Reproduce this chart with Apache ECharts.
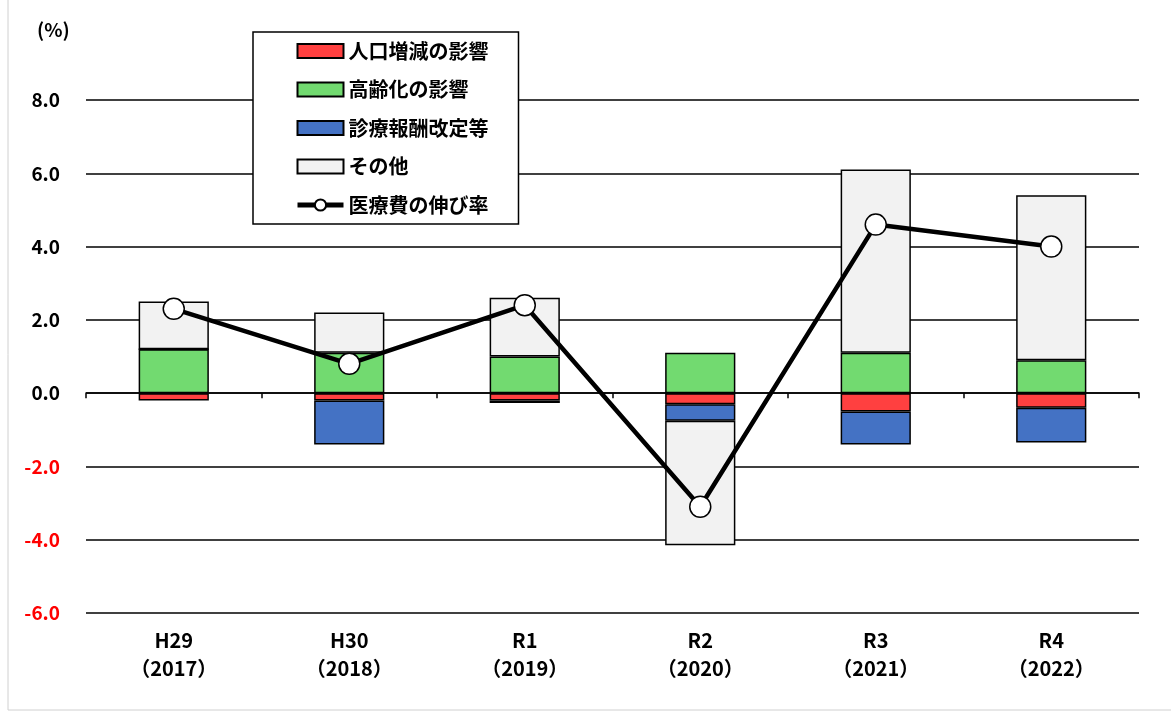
<!DOCTYPE html>
<html><head><meta charset="utf-8">
<script src="https://cdn.jsdelivr.net/npm/echarts@6/dist/echarts.min.js"></script>
<style>html,body{margin:0;padding:0;background:#fff}#c{width:1171px;height:715px}</style>
</head><body><div id="c"></div>
<script>
var categories = ['H29\n（2017）','H30\n（2018）','R1\n（2019）','R2\n（2020）','R3\n（2021）','R4\n（2022）'];
var popValues = [-0.2, -0.2, -0.2, -0.3, -0.5, -0.4];
var agingValues = [1.2, 1.1, 1.0, 1.1, 1.1, 0.9];
var feeValues = [0, -1.2, -0.07, -0.45, -0.9, -0.95];
var otherValues = [1.3, 1.1, 1.6, -3.4, 5.0, 4.5];
var growthValues = [2.3, 0.8, 2.4, -3.1, 4.6, 4.0];
var seriesNames = ['人口増減の影響','高齢化の影響','診療報酬改定等','その他','医療費の伸び率'];
var yTicks = [-6, -4, -2, 0, 2, 4, 6, 8];

var FONT = '"Noto Sans CJK JP", "Noto Sans", sans-serif';
var chart = echarts.init(document.getElementById('c'));
function bar(name, data, color){
  return {name:name, type:'bar', stack:'s', data:data, barWidth:'40%',
    itemStyle:{color:color, borderColor:'#000', borderWidth:1.5}};
}
chart.setOption({
  animation:false,
  textStyle:{fontFamily:FONT},
  graphic:[
    {type:'rect', shape:{x:8,y:-2,width:1200,height:712}, style:{fill:'none', stroke:'#d0d0d0', lineWidth:1}},
    {type:'text', left:37, top:20, style:{text:'(%)', font:'bold 19px '+FONT, fill:'#000'}}
  ],
  legend:{
    orient:'vertical', left:253, top:32, width:275,
    backgroundColor:'#fff', borderColor:'#000', borderWidth:1.5,
    padding:[9,30,9,42], itemGap:18.5, itemWidth:46, itemHeight:14,
    textStyle:{fontSize:20, fontWeight:'bold', color:'#000', fontFamily:FONT},
    data:[
      {name:seriesNames[0], icon:'rect'},
      {name:seriesNames[1], icon:'rect'},
      {name:seriesNames[2], icon:'rect'},
      {name:seriesNames[3], icon:'rect'},
      {name:seriesNames[4], lineStyle:{width:5}}
    ]
  },
  grid:{left:86, right:32, top:100, bottom:102},
  xAxis:{type:'category', data:categories,
    axisLine:{onZero:true, lineStyle:{color:'#000', width:1.5}},
    axisTick:{show:true, length:5, lineStyle:{color:'#000', width:1.5}},
    axisLabel:{fontSize:20, fontWeight:'bold', color:'#000', lineHeight:28, margin:13, fontFamily:FONT, interval:0}
  },
  yAxis:{type:'value', min:-6, max:8, interval:2,
    axisLine:{show:false}, axisTick:{show:false},
    splitLine:{lineStyle:{color:'#000', width:1.5}},
    axisLabel:{fontSize:19, fontWeight:'bold', margin:26, fontFamily:FONT,
      formatter:function(v){return v.toFixed(1);},
      color:function(v){return Number(v) < 0 ? '#ff0000' : '#000';}}
  },
  series:[
    bar(seriesNames[0], popValues, '#FF4040'),
    bar(seriesNames[1], agingValues, '#72DA70'),
    bar(seriesNames[2], feeValues, '#4472C4'),
    bar(seriesNames[3], otherValues, '#F2F2F2'),
    {name:seriesNames[4], type:'line', data:growthValues, z:10,
      symbol:'circle', symbolSize:21,
      lineStyle:{color:'#000', width:4.5},
      itemStyle:{color:'#fff', borderColor:'#000', borderWidth:1.5}}
  ]
});
</script></body></html>
